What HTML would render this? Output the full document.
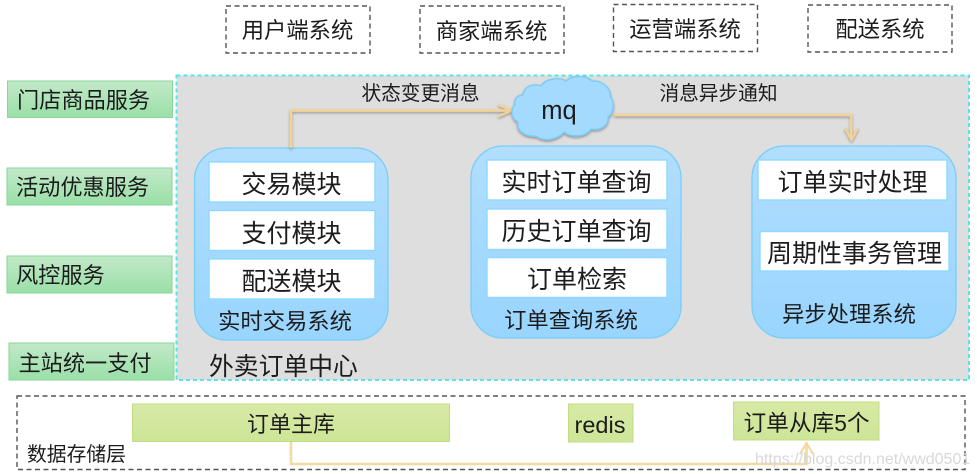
<!DOCTYPE html>
<html><head><meta charset="utf-8">
<style>
html,body{margin:0;padding:0;background:#fff;width:977px;height:474px;overflow:hidden}
svg{display:block;filter:blur(.35px)}
text{font-family:"Liberation Sans","Noto Sans CJK SC",sans-serif;fill:#1c1c1c;text-anchor:middle}
.l{text-anchor:start}
</style></head><body>
<svg width="977" height="474" viewBox="0 0 977 474" xmlns="http://www.w3.org/2000/svg">
<defs>
<linearGradient id="g" x1="0" y1="0" x2="0" y2="1"><stop offset="0" stop-color="#c2e9c8"/><stop offset="1" stop-color="#9adfa8"/></linearGradient>
<linearGradient id="b" x1="0" y1="0" x2="0" y2="1"><stop offset="0" stop-color="#b2deff"/><stop offset="1" stop-color="#98d5ff"/></linearGradient>
<linearGradient id="y" x1="0" y1="0" x2="0" y2="1"><stop offset="0" stop-color="#d8eaa6"/><stop offset="1" stop-color="#cde597"/></linearGradient>
<filter id="s" x="-10%" y="-10%" width="120%" height="125%"><feDropShadow dx="0" dy="1.500" stdDeviation="1.200" flood-color="#555" flood-opacity=".55"/></filter>
</defs>

<g fill="#fff" stroke="#555" stroke-width="1.400" stroke-dasharray="5 3.500">
<rect x="226" y="6" width="144" height="47"/>
<rect x="420" y="6" width="144" height="47"/>
<rect x="613.500" y="4.500" width="144" height="47"/>
<rect x="808" y="5" width="144" height="47"/>
<rect x="17" y="396" width="948" height="73.500"/>
</g>
<g font-size="22.300">
<text x="297.500" y="38">用户端系统</text>
<text x="491.500" y="39">商家端系统</text>
<text x="685" y="37">运营端系统</text>
<text x="880" y="37">配送系统</text>
</g>

<rect x="176.500" y="75.500" width="792.500" height="304.500" fill="#dedede" stroke="#55e6e6" stroke-width="2" stroke-dasharray="4 3"/>

<g fill="url(#g)" stroke="#86d798" stroke-width="1">
<rect x="7.500" y="81" width="165" height="36.500"/>
<rect x="7" y="168" width="165" height="37"/>
<rect x="7" y="256" width="165" height="37"/>
<rect x="9" y="343" width="165" height="37"/>
</g>
<g font-size="22.200">
<text class="l" x="17" y="108">门店商品服务</text>
<text class="l" x="16" y="195">活动优惠服务</text>
<text class="l" x="16" y="283">风控服务</text>
<text class="l" x="18.500" y="371">主站统一支付</text>
</g>

<g fill="url(#b)" stroke="#78cdf9" stroke-width="1.300">
<rect x="194.500" y="148" width="193.500" height="192" rx="32"/>
<rect x="471" y="146" width="210" height="192" rx="32"/>
<rect x="752" y="146" width="204" height="192" rx="32"/>
</g>
<g fill="#fff" stroke="#8ed8ff" stroke-width="1.400">
<rect x="209" y="162" width="166" height="40"/>
<rect x="209" y="210.500" width="166" height="40"/>
<rect x="209" y="259" width="166" height="40"/>
<rect x="487" y="160" width="180" height="40"/>
<rect x="487" y="209" width="180" height="40.500"/>
<rect x="487" y="257.500" width="180" height="40"/>
<rect x="758" y="160" width="189" height="40"/>
<rect x="760" y="231.500" width="189" height="39.500"/>
</g>
<g font-size="25">
<text x="291.500" y="193">交易模块</text>
<text x="291.500" y="242">支付模块</text>
<text x="291.500" y="290">配送模块</text>
<text x="576.500" y="191">实时订单查询</text>
<text x="576.500" y="240">历史订单查询</text>
<text x="577" y="288">订单检索</text>
<text x="852.500" y="191">订单实时处理</text>
<text x="854.500" y="262">周期性事务管理</text>
</g>
<g font-size="22.300">
<text x="285" y="329">实时交易系统</text>
<text x="571" y="328">订单查询系统</text>
<text x="849" y="322">异步处理系统</text>
</g>
<text class="l" x="209" y="375" font-size="24.800">外卖订单中心</text>

<g fill="none" stroke="#f2d396" stroke-width="2.600" filter="url(#s)">
<path d="M291 148V110.500H512" />
<path d="M498 104.500 512 110.500 498 116.500" stroke-width="2.200"/>
<path d="M614 115H851V139"/>
<path d="M845 128 851.500 140 858 128" stroke-width="2.200"/>
</g>
<g fill="none" stroke="#f2d9a6" stroke-width="2.600">
<path d="M291 442V464H806.500V444"/>
<path d="M800 454 806.500 443 813 454" stroke-width="2.200"/>
</g>

<path d="M523 95C524 86 534 83 541 86C546 78 560 77 566 81C572 75 586 75 592 81C602 80 611 88 610 96C615 102 614 113 608 117C609 125 601 131 591 129C586 137 571 138 564 132C557 140 544 142 536 136C526 137 516 131 518 122C510 118 511 108 515 105C514 99 517 95 523 95Z" fill="#a5daff" stroke="#78cdf9" stroke-width="1.400" filter="url(#s)"/>
<text x="559" y="119" font-size="25.500">mq</text>

<g font-size="19.700">
<text x="420.500" y="100">状态变更消息</text>
<text x="718.500" y="100">消息异步通知</text>
</g>

<g fill="url(#y)" stroke="#c1dd84" stroke-width="1">
<rect x="132.500" y="404" width="317" height="37.500"/>
<rect x="568.500" y="404" width="64.500" height="38"/>
<rect x="733.500" y="402" width="145.500" height="38"/>
</g>
<g font-size="22">
<text x="291" y="432">订单主库</text>
<text x="600" y="433" font-size="23.500">redis</text>
<text x="806.500" y="431" font-size="22.700">订单从库5个</text>
</g>
<text class="l" x="27" y="461" font-size="19.800">数据存储层</text>
<text class="l" x="755" y="464" font-size="16" style="fill:#d8d8d8">https://blog.csdn.net/wwd0501</text>
</svg>
</body></html>
